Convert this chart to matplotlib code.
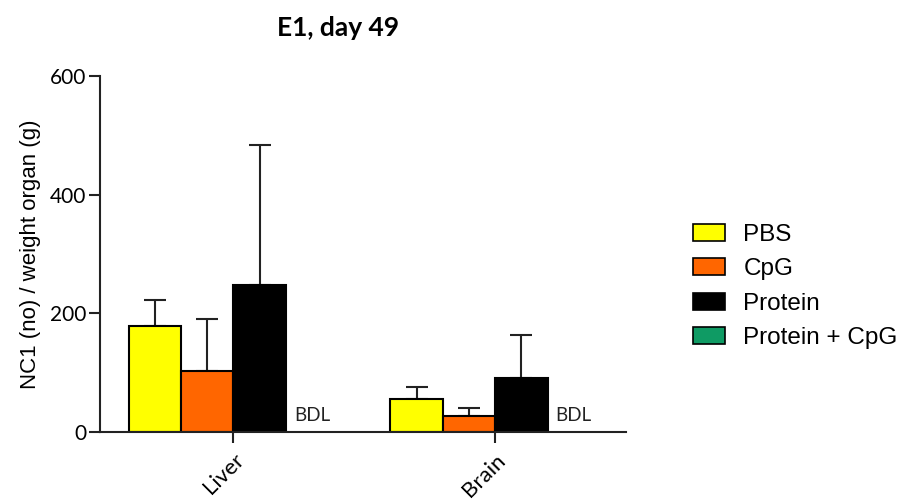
import matplotlib
matplotlib.use("Agg")
import matplotlib.pyplot as plt
import numpy as np
from matplotlib.patches import Patch

organs = ["Liver", "Brain"]
groups = ["PBS", "CpG", "Protein", "Protein + CpG"]
means = {
    "PBS": [178, 55],
    "CpG": [102, 27],
    "Protein": [247, 91],
    "Protein + CpG": [0, 0],
}
errs = {
    "PBS": [45, 21],
    "CpG": [88, 13],
    "Protein": [236, 72],
    "Protein + CpG": [0, 0],
}
bdl = [True, True]  # Protein + CpG below detection limit
colors = ["#FFFF00", "#FF6600", "#000000", "#0F9B64"]
yticks = [0, 200, 400, 600]

fig = plt.figure(figsize=(9.13, 5.04), dpi=100)
ax = fig.add_axes([0.1095, 0.1429, 0.5762, 0.7063])

x = np.arange(len(organs))
w = 0.2
offsets = [-1.5 * w, -0.5 * w, 0.5 * w, 1.5 * w]
for g, c, off in zip(groups, colors, offsets):
    m = np.array(means[g])
    e = np.array(errs[g])
    if g == "Protein + CpG":
        continue
    ax.bar(x + off, m, width=w, color=c, edgecolor="black", linewidth=1.5, zorder=2)
    ax.errorbar(x + off, m, yerr=[np.zeros_like(e), e], fmt="none",
                ecolor="#222222", elinewidth=1.5, capsize=8, capthick=1.5, zorder=1)

for i, b in enumerate(bdl):
    if b:
        ax.text(x[i] + offsets[3], 27, "BDL", ha="center", va="center",
                fontsize=13.5, family="Lato", color="#222222")

ax.set_xlim(-0.51, 1.5)
ax.set_ylim(0, 600)
ax.set_yticks(yticks)
ax.set_yticklabels([str(t) for t in yticks], family="Lato", fontsize=15)
ax.set_xticks(x)
ax.set_xticklabels(organs, rotation=45, ha="right", rotation_mode="anchor",
                   family="Lato", fontsize=16)
ax.tick_params(axis="both", direction="out", length=8, width=1.5, color="#222222")
ax.tick_params(axis="y", pad=2)
ax.tick_params(axis="x", pad=5)
for s in ["top", "right"]:
    ax.spines[s].set_visible(False)
for s in ["left", "bottom"]:
    ax.spines[s].set_linewidth(1.5)
    ax.spines[s].set_color("#222222")

ax.set_ylabel("NC1 (no) / weight organ (g)", family="Liberation Sans", fontsize=16, labelpad=6)
fig.text(338 / 913, 1 - 28 / 504, "E1, day 49", family="Lato", fontweight="bold",
         fontsize=19, ha="center", va="center")

handles = [Patch(facecolor=c, edgecolor="black", linewidth=1.2) for c in colors]
fig.legend(handles, groups, loc="upper left", bbox_to_anchor=(0.759, 0.555),
           frameon=False, prop={"family": "Liberation Sans", "size": 17.5},
           handlelength=1.33, handleheight=0.7, handletextpad=0.74,
           labelspacing=0.5, borderpad=0, borderaxespad=0)

fig.savefig("out.png", dpi=100)
